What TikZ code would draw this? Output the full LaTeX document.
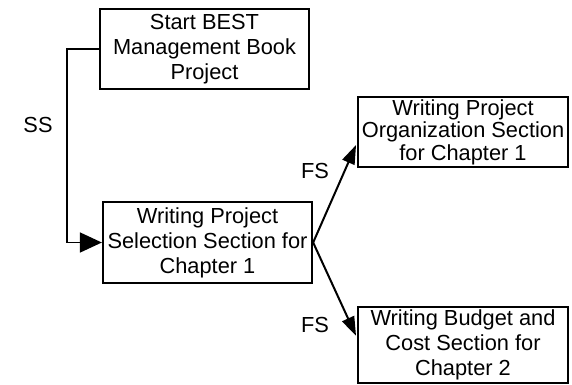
\documentclass[tikz,border=0pt]{standalone}
\usepackage{fontspec}
\setmainfont{Liberation Sans}
\usetikzlibrary{arrows.meta}
\begin{document}
\begin{tikzpicture}[x=1pt,y=-1pt,
  box/.style={draw, line width=2.3pt, inner sep=0pt, align=center, font=\fontsize{21.8}{25}\selectfont},
  lbl/.style={inner sep=0pt, font=\fontsize{21.8}{25}\selectfont},
  conn/.style={line width=2pt, -{Triangle[length=19pt,width=13pt]}}]
\useasboundingbox (0,0) rectangle (572,384);
\fill[white] (0,0) rectangle (572,384);
\node[box, minimum width=209pt, minimum height=80pt] (A) at (204.5,49) {Start BEST\\Management Book\\Project};
\node[box, minimum width=209pt, minimum height=81pt] (B) at (207.5,242.5) {Writing Project\\Selection Section for\\Chapter 1};
\node[box, minimum width=210pt, minimum height=70pt, font=\fontsize{21.8}{22.5}\selectfont] (C) at (463,132) {Writing Project\\Organization Section\\for Chapter 1};
\node[box, minimum width=210pt, minimum height=76pt] (D) at (463,345) {Writing Budget and\\Cost Section for\\Chapter 2};
\node[lbl] (ss) at (38,125) {SS};
\node[lbl] (fs1) at (315,171) {FS};
\node[lbl] (fs2) at (315,324.5) {FS};
\draw[line width=1.8pt, -{Triangle[length=22pt,width=20pt]}] (A.west) -- ++(-32,0) |- (B.west);
\draw[conn, shorten >=2pt] (B.east) -- (C.186.5);
\draw[conn, shorten >=2pt] (B.east) -- (D.176);
\end{tikzpicture}
\end{document}
